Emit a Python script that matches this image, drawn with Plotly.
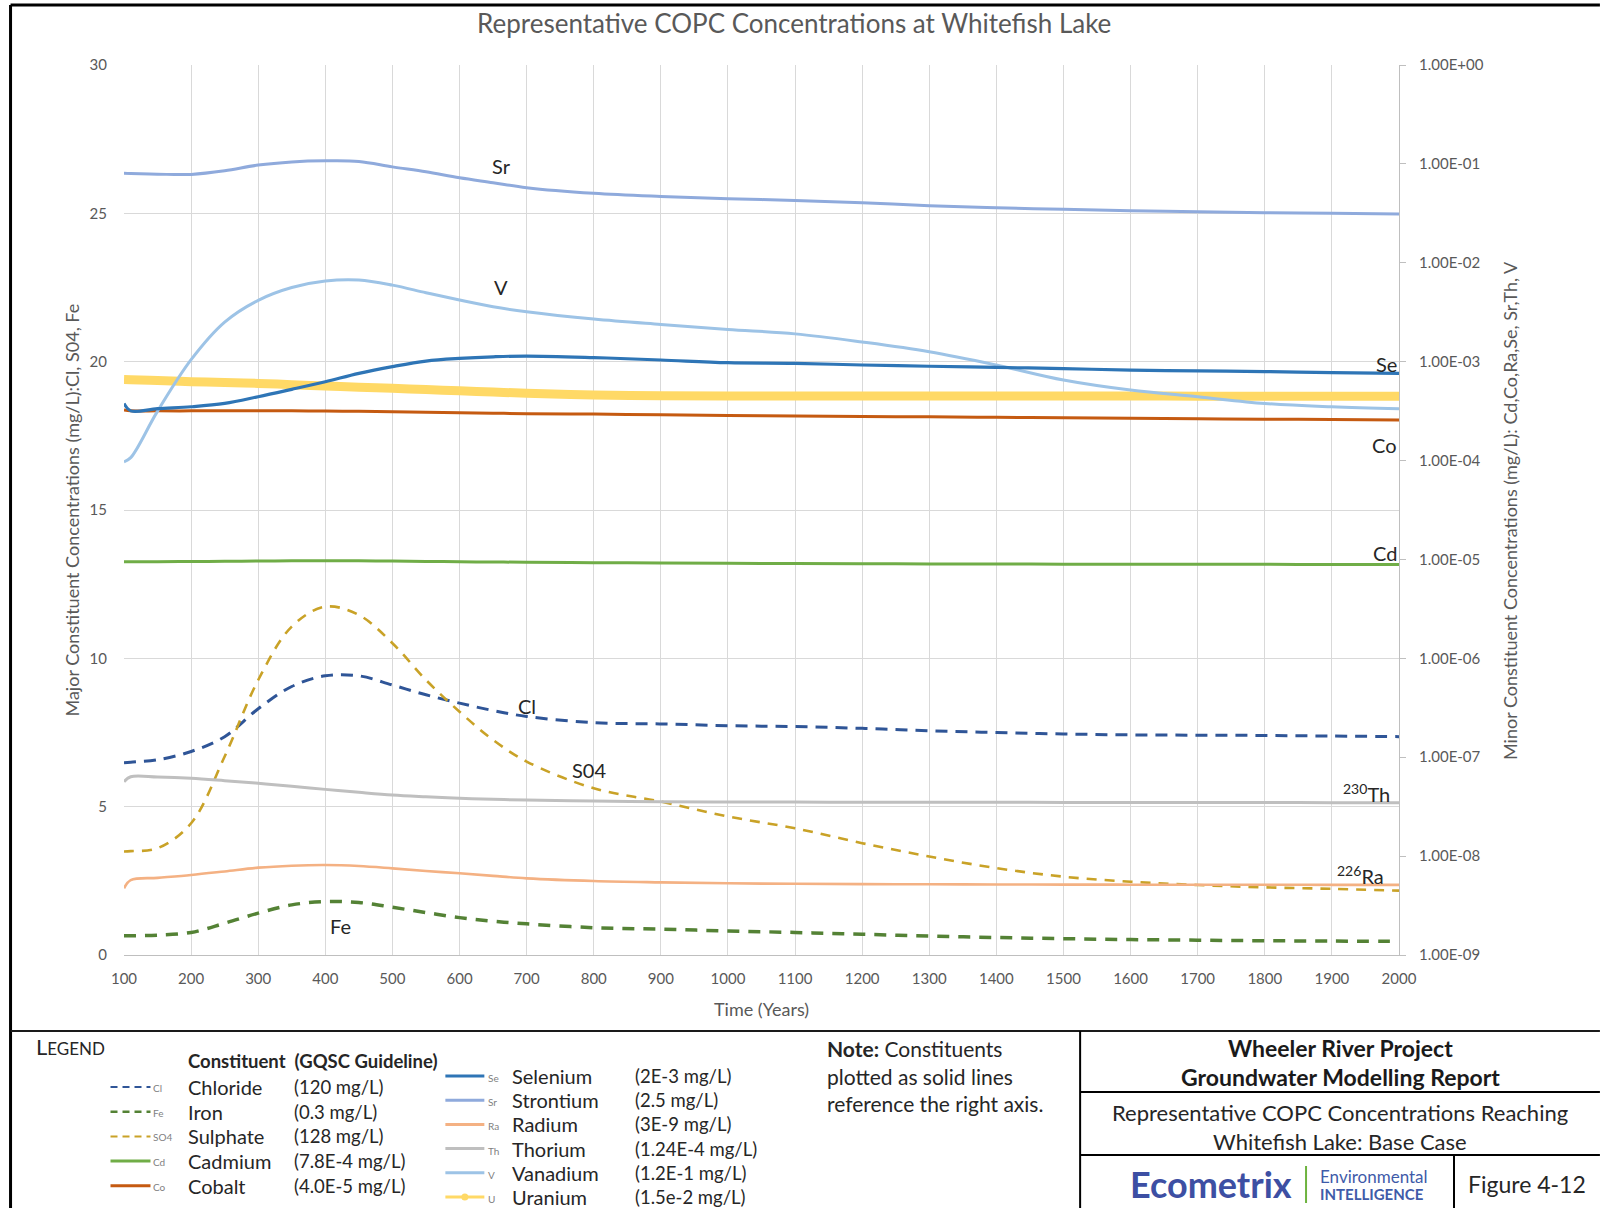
import plotly.graph_objects as go

# ---------------------------------------------------------------- data
TIME = [100, 110, 150, 200, 250, 300, 350, 400, 450, 500, 550, 600, 650, 700,
        800, 900, 1000, 1100, 1200, 1300, 1400, 1500, 1600, 1700, 1800, 1900, 2000]

# Major constituents (left axis, mg/L)
CHLORIDE = [6.48, 6.50, 6.58, 6.86, 7.36, 8.30, 9.05, 9.41, 9.41, 9.10, 8.77, 8.49, 8.24, 8.04,
            7.83, 7.79, 7.73, 7.70, 7.64, 7.56, 7.50, 7.45, 7.42, 7.41, 7.40, 7.38, 7.36]
IRON = [0.65, 0.65, 0.67, 0.76, 1.07, 1.41, 1.69, 1.80, 1.77, 1.61, 1.43, 1.26, 1.14, 1.05,
        0.92, 0.87, 0.81, 0.76, 0.70, 0.64, 0.59, 0.55, 0.52, 0.50, 0.48, 0.47, 0.46]
SULPHATE = [3.49, 3.50, 3.60, 4.44, 6.69, 9.27, 11.07, 11.74, 11.46, 10.51, 9.27, 8.20, 7.25, 6.52,
            5.62, 5.17, 4.67, 4.27, 3.77, 3.32, 2.93, 2.64, 2.47, 2.36, 2.28, 2.23, 2.17]

# Minor constituents (right log axis, mg/L)
CADMIUM = [9.50e-6, 9.50e-6, 9.50e-6, 9.52e-6, 9.58e-6, 9.64e-6, 9.68e-6, 9.70e-6, 9.68e-6, 9.62e-6,
           9.55e-6, 9.48e-6, 9.42e-6, 9.37e-6, 9.28e-6, 9.20e-6, 9.13e-6, 9.08e-6, 9.04e-6, 9.01e-6,
           8.98e-6, 8.96e-6, 8.94e-6, 8.93e-6, 8.92e-6, 8.91e-6, 8.90e-6]
COBALT = [3.24e-4, 3.19e-4, 3.18e-4, 3.18e-4, 3.18e-4, 3.18e-4, 3.18e-4, 3.17e-4, 3.15e-4, 3.12e-4,
          3.08e-4, 3.04e-4, 3.01e-4, 2.98e-4, 2.95e-4, 2.90e-4, 2.86e-4, 2.82e-4, 2.79e-4, 2.77e-4,
          2.74e-4, 2.71e-4, 2.68e-4, 2.65e-4, 2.62e-4, 2.60e-4, 2.57e-4]
SELENIUM = [3.78e-4, 3.18e-4, 3.35e-4, 3.50e-4, 3.78e-4, 4.42e-4, 5.25e-4, 6.27e-4, 7.62e-4, 8.91e-4,
            1.014e-3, 1.079e-3, 1.12e-3, 1.14e-3, 1.10e-3, 1.04e-3, 9.77e-4, 9.62e-4, 9.25e-4, 8.99e-4,
            8.75e-4, 8.51e-4, 8.22e-4, 8.07e-4, 7.94e-4, 7.76e-4, 7.62e-4]
STRONTIUM = [0.0802, 0.0798, 0.0787, 0.0783, 0.0851, 0.0973, 0.1047, 0.1074, 0.1059, 0.0933,
             0.0832, 0.0724, 0.0646, 0.0575, 0.0504, 0.0468, 0.0444, 0.0427, 0.0405, 0.0377,
             0.0360, 0.0347, 0.0336, 0.0328, 0.0321, 0.0316, 0.0311]
RADIUM = [4.72e-9, 5.73e-9, 6.03e-9, 6.44e-9, 7.00e-9, 7.64e-9, 8.00e-9, 8.13e-9, 7.94e-9, 7.52e-9,
          7.08e-9, 6.70e-9, 6.31e-9, 5.96e-9, 5.60e-9, 5.43e-9, 5.31e-9, 5.25e-9, 5.21e-9, 5.19e-9,
          5.17e-9, 5.15e-9, 5.14e-9, 5.13e-9, 5.13e-9, 5.12e-9, 5.12e-9]
THORIUM = [5.65e-8, 6.35e-8, 6.31e-8, 6.12e-8, 5.79e-8, 5.45e-8, 5.08e-8, 4.73e-8, 4.42e-8, 4.15e-8,
           3.98e-8, 3.84e-8, 3.75e-8, 3.69e-8, 3.61e-8, 3.55e-8, 3.53e-8, 3.52e-8, 3.51e-8, 3.50e-8,
           3.50e-8, 3.49e-8, 3.49e-8, 3.48e-8, 3.48e-8, 3.47e-8, 3.47e-8]
VANADIUM = [9.73e-5, 1.07e-4, 3.16e-4, 1.047e-3, 2.51e-3, 4.17e-3, 5.62e-3, 6.53e-3, 6.68e-3, 5.94e-3,
            4.98e-3, 4.20e-3, 3.59e-3, 3.20e-3, 2.70e-3, 2.38e-3, 2.12e-3, 1.91e-3, 1.58e-3, 1.26e-3,
            9.25e-4, 6.52e-4, 5.16e-4, 4.42e-4, 3.78e-4, 3.50e-4, 3.34e-4]
URANIUM = [6.62e-4, 6.58e-4, 6.45e-4, 6.27e-4, 6.15e-4, 6.03e-4, 5.85e-4, 5.66e-4, 5.52e-4, 5.37e-4,
           5.22e-4, 5.08e-4, 4.93e-4, 4.79e-4, 4.59e-4, 4.52e-4, 4.49e-4, 4.49e-4, 4.49e-4, 4.49e-4,
           4.49e-4, 4.49e-4, 4.49e-4, 4.48e-4, 4.48e-4, 4.48e-4, 4.48e-4]

X_TICKS = list(range(100, 2001, 100))
RIGHT_TICKVALS = [1e-9, 1e-8, 1e-7, 1e-6, 1e-5, 1e-4, 1e-3, 1e-2, 1e-1, 1e0]
RIGHT_TICKTEXT = ["1.00E-09", "1.00E-08", "1.00E-07", "1.00E-06", "1.00E-05",
                  "1.00E-04", "1.00E-03", "1.00E-02", "1.00E-01", "1.00E+00"]

# legend rows: name, guideline, short tag
LEFT_LEGEND = [("Chloride", "(120 mg/L)", "Cl"),
               ("Iron", "(0.3 mg/L)", "Fe"),
               ("Sulphate", "(128 mg/L)", "SO4"),
               ("Cadmium", "(7.8E-4 mg/L)", "Cd"),
               ("Cobalt", "(4.0E-5 mg/L)", "Co")]
RIGHT_LEGEND = [("Selenium", "(2E-3 mg/L)", "Se"),
                ("Strontium", "(2.5 mg/L)", "Sr"),
                ("Radium", "(3E-9 mg/L)", "Ra"),
                ("Thorium", "(1.24E-4 mg/L)", "Th"),
                ("Vanadium", "(1.2E-1 mg/L)", "V"),
                ("Uranium", "(1.5e-2 mg/L)", "U")]

# ---------------------------------------------------------------- style
C_CL, C_FE, C_SO4 = "#2F5597", "#548235", "#C9A227"
C_CD, C_CO, C_SE, C_SR = "#70AD47", "#C55A11", "#2E75B6", "#8FAADC"
C_RA, C_TH, C_V, C_U = "#F4B183", "#BFBFBF", "#9DC3E6", "#FFD966"
FONT = "Lato, 'Open Sans', sans-serif"
AXIS_GREY = "#595959"

W, H = 1600, 1208
PL, PR, PT, PB = 123.5, 1399, 65, 955


def px(x):
    return (x - PL) / (PR - PL)


def py(y):
    return (PB - y) / (PB - PT)


fig = go.Figure()


def add_line(y, color, width, dash="solid", right=False, name=""):
    fig.add_trace(go.Scatter(
        x=TIME, y=y, mode="lines", name=name,
        line=dict(color=color, width=width, dash=dash, shape="spline", smoothing=1.0),
        yaxis="y2" if right else "y", hoverinfo="x+y+name", showlegend=False))


# left-axis dashed series
add_line(CHLORIDE, C_CL, 3, "12px,8px", name="Chloride")
add_line(SULPHATE, C_SO4, 2.6, "10px,8px", name="Sulphate")
add_line(IRON, C_FE, 3.5, "12px,9px", name="Iron")
# right-axis solid series
add_line(THORIUM, C_TH, 3, right=True, name="Thorium")
add_line(RADIUM, C_RA, 2.6, right=True, name="Radium")
add_line(CADMIUM, C_CD, 3, right=True, name="Cadmium")
add_line(STRONTIUM, C_SR, 3, right=True, name="Strontium")
add_line(COBALT, C_CO, 3, right=True, name="Cobalt")
add_line(URANIUM, C_U, 9, right=True, name="Uranium")
add_line(VANADIUM, C_V, 3, right=True, name="Vanadium")
add_line(SELENIUM, C_SE, 3.2, right=True, name="Selenium")

annotations = []
shapes = []


def text(x, y, s, size=18, color="#262626", xanchor="left", yanchor="middle", angle=0, bold=False):
    if bold:
        s = "<b>" + s + "</b>"
    annotations.append(dict(xref="paper", yref="paper", x=px(x), y=py(y), text=s,
                            showarrow=False, xanchor=xanchor, yanchor=yanchor, textangle=angle,
                            font=dict(family=FONT, size=size, color=color)))


def line(x0, y0, x1, y1, color="#000000", width=2, dash="solid"):
    shapes.append(dict(type="line", xref="paper", yref="paper",
                       x0=px(x0), y0=py(y0), x1=px(x1), y1=py(y1),
                       line=dict(color=color, width=width, dash=dash), layer="above"))


# series labels inside the plot
def data_label(t, v, s, xanchor="center", size=20):
    annotations.append(dict(xref="x", yref="y", x=t, y=v, text=s, showarrow=False,
                            xanchor=xanchor, yanchor="middle",
                            font=dict(family=FONT, size=size, color="#262626")))


data_label(663, 26.58, "Sr")
data_label(662, 22.52, "V")
data_label(2000, 19.91, "Se", xanchor="right")
data_label(2006, 18.87, "U", xanchor="left")
data_label(2000, 17.19, "Co", xanchor="right")
data_label(2000, 13.55, "Cd", xanchor="right")
data_label(700, 8.40, "Cl")
data_label(793, 6.22, "S04")
data_label(1990, 5.46, "<sup>230</sup>Th", xanchor="right")
data_label(1980, 2.71, "<sup>226</sup>Ra", xanchor="right")
data_label(422, 0.99, "Fe")

# titles
text(794, 23, "Representative COPC Concentrations at Whitefish Lake", size=26,
     color=AXIS_GREY, xanchor="center")
text(761, 1009, "Time (Years)", size=18, color=AXIS_GREY, xanchor="center")
text(71, 510, "Major Constituent Concentrations (mg/L):Cl, S04, Fe", size=18,
     color=AXIS_GREY, xanchor="center", angle=-90)
text(1510, 510, "Minor Constituent Concentrations (mg/L): Cd,Co,Ra,Se, Sr,Th, V", size=18,
     color=AXIS_GREY, xanchor="center", angle=-90)

# frame and title block
line(10, 5, 1600, 5, width=3)
line(10, 5, 10, 1208, width=3)
line(10, 1031, 1600, 1031, color="#1A1A1A", width=2)
line(1080, 1031, 1080, 1208, width=2)
line(1080, 1092, 1600, 1092, width=2)
line(1080, 1155, 1600, 1155, width=2)
line(1454, 1155, 1454, 1208, width=2)

# legend
text(33, 1046, '<span style="font-size:22px">L</span>EGEND', size=17, color="#262626")
text(186, 1061, "Constituent  (GQSC Guideline)", size=18.5, bold=True)

left_styles = [(C_CL, "dash", 2.2), (C_FE, "dash", 2.4), (C_SO4, "dash", 2.0),
               (C_CD, "solid", 3), (C_CO, "solid", 3)]
for i, ((name, guide, tag), (col, dsh, wd)) in enumerate(zip(LEFT_LEGEND, left_styles)):
    y = 1087 + i * 24.7
    line(110, y, 150, y, color=col, width=wd, dash="7px,5px" if dsh == "dash" else "solid")
    text(151, y + 1, tag, size=10, color="#7F7F7F")
    text(186, y, name, size=20)
    text(292, y, guide, size=18.5)

right_colors = [C_SE, C_SR, C_RA, C_TH, C_V, C_U]
for i, ((name, guide, tag), col) in enumerate(zip(RIGHT_LEGEND, right_colors)):
    y = 1076 + i * 24.2
    line(445, y, 484, y, color=col, width=3)
    if tag == "U":
        shapes.append(dict(type="circle", xref="paper", yref="paper",
                           x0=px(461), x1=px(468), y0=py(y + 3.5), y1=py(y - 3.5),
                           fillcolor=col, line=dict(color=col, width=0), layer="above"))
    text(486, y + 2, tag, size=10, color="#7F7F7F")
    text(510, y, name, size=20)
    text(633, y, guide, size=18.5)

# note
text(825, 1048, "<b>Note:</b> Constituents", size=21)
text(825, 1076, "plotted as solid lines", size=21)
text(825, 1103, "reference the right axis.", size=21)

# title block text
text(1340, 1048, "Wheeler River Project", size=23, bold=True, color="#1A1A1A", xanchor="center")
text(1340, 1077, "Groundwater Modelling Report", size=23, bold=True, color="#1A1A1A", xanchor="center")
text(1340, 1112, "Representative COPC Concentrations Reaching", size=22, color="#262626", xanchor="center")
text(1340, 1141, "Whitefish Lake: Base Case", size=22, color="#262626", xanchor="center")
text(1128, 1184, "Ecometrix", size=36, bold=True, color="#3D4FA3")
line(1306, 1166, 1306, 1203, color="#6DB33F", width=2)
text(1318, 1176, "Environmental", size=17, color="#3F5BA9")
text(1318, 1194, "INTELLIGENCE", size=15, bold=True, color="#3F5BA9")
text(1527, 1184, "Figure 4-12", size=23, color="#262626", xanchor="center")

tick_font = dict(family=FONT, size=15, color=AXIS_GREY)
fig.update_layout(
    width=W, height=H,
    margin=dict(l=PL, r=W - PR, t=PT, b=H - PB, pad=0),
    paper_bgcolor="white", plot_bgcolor="white",
    showlegend=False,
    font=dict(family=FONT),
    xaxis=dict(range=[100, 2000], tickvals=X_TICKS, showgrid=True, gridcolor="#D9D9D9",
               gridwidth=1, showline=True, linecolor="#BFBFBF", linewidth=1, zeroline=False,
               ticks="", tickfont=tick_font, ticklabelstandoff=10),
    yaxis=dict(range=[0, 30], tick0=0, dtick=5, showgrid=True, gridcolor="#D9D9D9",
               gridwidth=1, showline=False, zeroline=False, ticks="", tickfont=tick_font,
               ticklabelstandoff=16),
    yaxis2=dict(overlaying="y", side="right", type="log", range=[-9, 0],
                tickvals=RIGHT_TICKVALS, ticktext=RIGHT_TICKTEXT, showgrid=False,
                showline=True, linecolor="#BFBFBF", linewidth=1, zeroline=False,
                ticks="outside", ticklen=6, tickcolor="#BFBFBF", tickfont=tick_font,
                ticklabelstandoff=10),
    annotations=annotations,
    shapes=shapes,
)

fig.write_html("out.html")
